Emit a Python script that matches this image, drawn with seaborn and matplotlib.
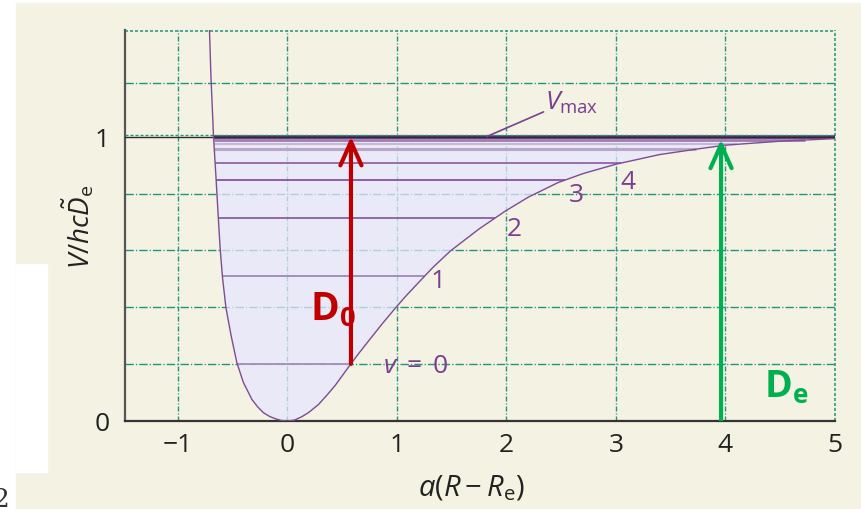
import numpy as np
import pandas as pd
import matplotlib
matplotlib.use("Agg")
import matplotlib.pyplot as plt
import seaborn as sns
from matplotlib.patches import Rectangle, FancyArrowPatch

# Morse-type potential energy curve, V/hcDe against a(R - Re)
curve_x = [-0.709, -0.696, -0.672, -0.648, -0.627, -0.611, -0.590, -0.559,
           -0.511, -0.459, -0.399, -0.322, -0.27, -0.216, -0.16, -0.109,
           -0.055, 0.0, 0.065, 0.134, 0.2, 0.286, 0.37, 0.438, 0.557,
           0.65, 0.75, 0.87, 0.985, 1.08, 1.17, 1.33, 1.49, 1.75, 1.99,
           2.2, 2.47, 2.7, 3.0, 3.4, 3.77, 4.0, 4.5, 5.0]
curve_y = [1.375, 1.215, 1.0, 0.846, 0.705, 0.604, 0.504, 0.399,
           0.299, 0.205, 0.135, 0.076, 0.05, 0.029, 0.016, 0.008,
           0.002, 0.0, 0.003, 0.015, 0.031, 0.058, 0.094, 0.125, 0.188,
           0.236, 0.285, 0.343, 0.396, 0.438, 0.475, 0.54, 0.598, 0.675, 0.738,
           0.787, 0.838, 0.87, 0.903, 0.937, 0.958, 0.970, 0.984, 0.993]

# Vibrational energy levels (v = 0, 1, 2, ... up to the dissociation limit)
level_energies = [0.201, 0.509, 0.714, 0.847, 0.907, 0.956, 0.973, 0.988, 0.997]
level_names = [r"$v\;=\;0$", "1", "2", "3", "4"]

x_ticks = [-1, 0, 1, 2, 3, 4, 5]
x_tick_labels = ["\u22121", "0", "1", "2", "3", "4", "5"]
y_ticks = [0, 1]
y_tick_labels = ["0", "1"]

de_arrow_x = 3.96
de_arrow_top = 0.99

sns.set_theme(style="white")
plt.rcParams["font.family"] = ["Open Sans", "DejaVu Sans"]
plt.rcParams["mathtext.fontset"] = "custom"
plt.rcParams["mathtext.rm"] = "Open Sans"
plt.rcParams["mathtext.it"] = "Open Sans:italic"
plt.rcParams["mathtext.bf"] = "Open Sans:bold"
plt.rcParams["lines.scale_dashes"] = False

BEIGE = "#F4F2E3"
TEAL = "#26927F"
PURPLE = "#7B3F8F"
TEXT = "#222222"

fig = plt.figure(figsize=(8.61, 5.10), dpi=100, facecolor="white")
W, H = 861.0, 510.0

# page background and cut-out
fig.patches.append(Rectangle((16 / W, 0), 1 - 16 / W, 1 - 4 / H,
                             transform=fig.transFigure, color=BEIGE, zorder=-10))
fig.patches.append(Rectangle((16 / W, 1 - 473 / H), 31 / W, 208 / H,
                             transform=fig.transFigure, color="white", zorder=-9))
fig.text(9 / W, 1 - 507 / H, "2", family="DejaVu Serif", fontsize=19,
         color="#333333", ha="right", va="baseline")

ax = fig.add_axes([125 / W, 1 - 422 / H, 710 / W, 391 / H])
ax.set_facecolor(BEIGE)
ax.set_xlim(-1.48, 5.0)
ax.set_ylim(0, 1.375)

cx = np.array(curve_x)
cy = np.array(curve_y)

# background grid
for gx in [-1, 0, 1, 2, 3, 4]:
    ax.plot([gx, gx], [0, 1.375], color=TEAL, lw=1.0,
            dashes=(3.6, 1.4, 0.8, 1.4), zorder=1)
for gy in [0.2, 0.4, 0.6, 0.8, 1.19]:
    ax.plot([-1.48, 5.0], [gy, gy], color=TEAL, lw=1.0,
            dashes=(6.0, 1.5, 0.9, 1.5), zorder=1)
ax.plot([-1.48, 5.0], [1.372, 1.372], color=TEAL, lw=1.1, dashes=(2.2, 1.4), zorder=1, clip_on=False)
ax.plot([4.997, 4.997], [0, 1.375], color=TEAL, lw=1.1, dashes=(2.2, 1.4), zorder=1, clip_on=False)

# shaded well below the dissociation limit
ax.fill_between(cx, cy, 1.0, where=cy <= 1.0, interpolate=True,
                color="#E6E6FF", alpha=0.72, lw=0, zorder=2)

# vibrational levels between the classical turning points
left = cx <= 0
right = cx >= 0
lx, ly = cx[left][::-1], cy[left][::-1]
rx, ry = cx[right], cy[right]
level_colors = ["#9E86B4", "#9A7FB2", "#85519A", "#7F4895", "#8B5A9F",
                "#BBA6CB", "#C7B6D4", "#9E7CB0", "#5B2A6E"]
level_widths = [1.2, 1.2, 1.2, 1.2, 1.2, 2.2, 1.5, 2.0, 2.6]
for e, c, w in zip(level_energies, level_colors, level_widths):
    x0 = np.interp(e, ly, lx)
    x1 = np.interp(e, ry, rx)
    ax.plot([x0, x1], [e, e], color=c, lw=w, solid_capstyle="butt", zorder=3)

# dissociation asymptote
ax.plot([-1.48, 5.0], [1.0, 1.0], color="#2B2B2B", lw=1.0, zorder=4)
ax.plot([-1.48, 5.0], [1.005, 1.005], color=TEAL, lw=1.0, dashes=(2.2, 1.4), zorder=4)

# potential curve
df = pd.DataFrame({"x": cx, "V": cy})
sns.lineplot(data=df, x="x", y="V", sort=False, estimator=None,
             color="#7E4C93", lw=1.0, ax=ax, zorder=5)

# level labels
label_pos = [(1.17, 0.194), (1.38, 0.493), (2.07, 0.676), (2.64, 0.796), (3.11, 0.842)]
for name, (px, py) in zip(level_names, label_pos):
    ax.text(px, py, name, color=PURPLE, fontsize=19, ha="center", va="center", zorder=6)

ax.plot([1.82, 2.34], [1.0, 1.087], color=PURPLE, lw=1.2, zorder=6)
ax.text(2.355, 1.099, r"$V_{\mathrm{max}}$", color=PURPLE, fontsize=19,
        ha="left", va="baseline", zorder=6)

# D0 arrow: from the v = 0 level to the dissociation limit
d0_x = np.interp(level_energies[0], ry, rx)
ax.add_patch(FancyArrowPatch((d0_x, level_energies[0]), (d0_x, 1.0),
                             arrowstyle="->,head_length=0.85,head_width=0.38",
                             mutation_scale=20, color="#C00000", lw=3.0,
                             shrinkA=0, shrinkB=0, zorder=7))
ax.text(0.21, 0.356, r"$\mathbf{D}_{\mathbf{0}}$", color="#C00000", fontsize=28,
        ha="left", va="baseline", zorder=8)

# De arrow: from the minimum to the dissociation limit
ax.add_patch(FancyArrowPatch((de_arrow_x, 0.0), (de_arrow_x, de_arrow_top),
                             arrowstyle="->,head_length=0.85,head_width=0.38",
                             mutation_scale=20, color="#00B050", lw=3.0,
                             shrinkA=0, shrinkB=0, zorder=7))
ax.text(4.35, 0.085, r"$\mathbf{D}_{\mathbf{e}}$", color="#00B050", fontsize=27,
        ha="left", va="baseline", zorder=8)

# axes frame and ticks
for s in ["top", "right"]:
    ax.spines[s].set_visible(False)
ax.spines["left"].set_color("#555555")
ax.spines["left"].set_linewidth(1.6)
ax.spines["bottom"].set_color("#333333")
ax.spines["bottom"].set_linewidth(1.6)
ax.set_xticks(x_ticks)
ax.set_xticklabels(x_tick_labels)
ax.set_yticks(y_ticks)
ax.set_yticklabels(y_tick_labels)
ax.tick_params(axis="x", length=0, pad=8, labelsize=19, labelcolor=TEXT)
ax.tick_params(axis="y", length=0, pad=11, labelsize=19, labelcolor=TEXT)
ax.set_xlabel("")
ax.set_ylabel("")

fig.text(471 / W, 1 - 488 / H, r"$a(R-R_{\mathrm{e}})$", fontsize=21, color=TEXT,
         ha="center", va="center")
fig.text(79 / W, 1 - 227 / H, r"$V/hc\tilde{D}_{\mathrm{e}}$", fontsize=20, color=TEXT,
         ha="center", va="center", rotation=90)

fig.savefig("out.png", dpi=100, facecolor="white")
